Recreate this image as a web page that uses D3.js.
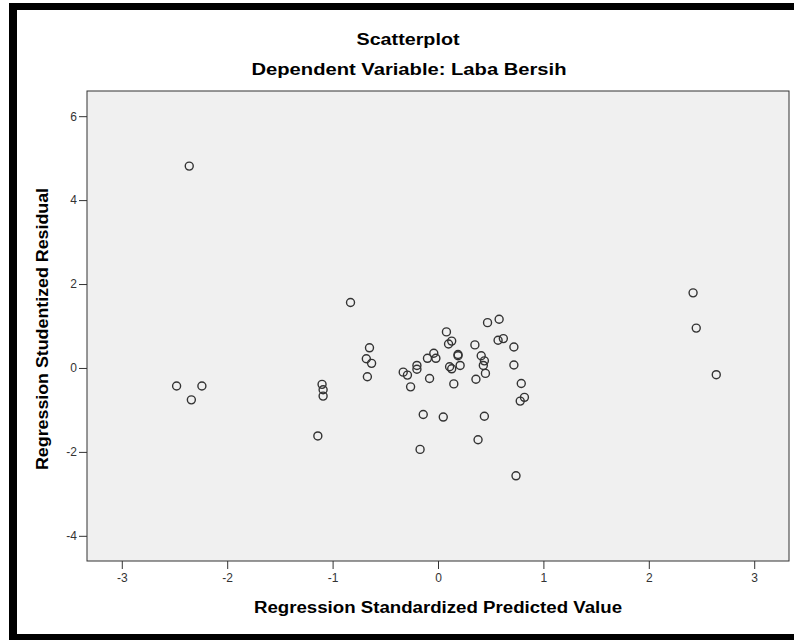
<!DOCTYPE html>
<html>
<head>
<meta charset="utf-8">
<script src="https://cdn.jsdelivr.net/npm/d3@7"></script>
<style>
  body { margin: 0; background: #fff; }
  svg { display: block; font-family: "Liberation Sans", Arial, sans-serif; }
</style>
</head>
<body>
<svg width="794" height="640"></svg>
<script>
// values
var predicted = [-2.36, -2.48, -2.24, -2.34, -1.10, -1.09, -1.09, -1.14, -0.83, -0.65,
    -0.68, -0.63, -0.67, -0.33, -0.29, -0.20, -0.20, -0.26, -0.10, -0.04,
    -0.02, -0.08, 0.08, 0.13, 0.10, 0.19, 0.19, 0.11, 0.13, 0.21,
    0.15, -0.14, 0.05, -0.17, 0.35, 0.41, 0.44, 0.43, 0.45, 0.36,
    0.44, 0.38, 0.47, 0.58, 0.57, 0.62, 0.72, 0.72, 0.79, 0.82,
    0.78, 0.74, 2.42, 2.45, 2.64];
var residual = [4.81, -0.43, -0.43, -0.76, -0.39, -0.52, -0.67, -1.62, 1.56, 0.48,
    0.22, 0.11, -0.21, -0.10, -0.17, 0.06, -0.03, -0.45, 0.23, 0.35,
    0.23, -0.25, 0.86, 0.64, 0.57, 0.32, 0.29, 0.03, -0.02, 0.06,
    -0.38, -1.11, -1.17, -1.94, 0.55, 0.29, 0.17, 0.06, -0.13, -0.27,
    -1.15, -1.71, 1.08, 1.16, 0.66, 0.70, 0.50, 0.07, -0.37, -0.70,
    -0.79, -2.57, 1.79, 0.95, -0.16];
var xTicks = [-3, -2, -1, 0, 1, 2, 3];
var yTicks = [-4, -2, 0, 2, 4, 6];

(function () {
    var svg = d3.select("svg");
    var pLeft = 87, pRight = 789, pTop = 91, pBottom = 561;

    var x = d3.scaleLinear().domain([-3.33, 3.33]).range([pLeft, pRight]);
    var y = d3.scaleLinear().domain([-4.6, 6.6]).range([pBottom, pTop]);

    // black frame of the pasted picture
    svg.append("rect").attr("x", 9).attr("y", 3).attr("width", 785).attr("height", 7).attr("fill", "#000");
    svg.append("rect").attr("x", 9).attr("y", 3).attr("width", 8).attr("height", 637).attr("fill", "#000");
    svg.append("rect").attr("x", 9).attr("y", 634).attr("width", 785).attr("height", 6).attr("fill", "#000");

    svg.append("text").attr("x", 408).attr("y", 45).attr("text-anchor", "middle")
        .style("font-size", "16px").style("font-weight", "bold")
        .attr("textLength", 103).attr("lengthAdjust", "spacingAndGlyphs")
        .text("Scatterplot");
    svg.append("text").attr("x", 409).attr("y", 75).attr("text-anchor", "middle")
        .style("font-size", "16px").style("font-weight", "bold")
        .attr("textLength", 315).attr("lengthAdjust", "spacingAndGlyphs")
        .text("Dependent Variable: Laba Bersih");

    svg.append("rect")
        .attr("x", pLeft).attr("y", pTop)
        .attr("width", pRight - pLeft).attr("height", pBottom - pTop)
        .attr("fill", "#f0f0f0")
        .attr("stroke", "#333").attr("stroke-width", 1);

    var fmt = function (d) { return String(d); };
    var xAxis = svg.append("g").attr("transform", "translate(0," + pBottom + ")")
        .call(d3.axisBottom(x).tickValues(xTicks).tickSize(8).tickPadding(4).tickFormat(fmt));
    var yAxis = svg.append("g").attr("transform", "translate(" + pLeft + ",0)")
        .call(d3.axisLeft(y).tickValues(yTicks).tickSize(8).tickPadding(2).tickFormat(fmt));

    [xAxis, yAxis].forEach(function (g) {
        g.select(".domain").remove();
        g.selectAll("line").attr("stroke", "#333");
        g.selectAll("text").attr("fill", "#333")
            .style("font-family", "'Liberation Sans', Arial, sans-serif").style("font-size", "12px");
    });

    svg.append("text").attr("x", 438).attr("y", 613).attr("text-anchor", "middle")
        .style("font-size", "16px").style("font-weight", "bold")
        .attr("textLength", 368).attr("lengthAdjust", "spacingAndGlyphs")
        .text("Regression Standardized Predicted Value");
    svg.append("text").attr("transform", "translate(48,329) rotate(-90)").attr("text-anchor", "middle")
        .style("font-size", "16px").style("font-weight", "bold")
        .attr("textLength", 282).attr("lengthAdjust", "spacingAndGlyphs")
        .text("Regression Studentized Residual");

    svg.selectAll("circle.pt")
        .data(predicted)
        .enter()
        .append("circle")
        .attr("class", "pt")
        .attr("cx", function (d) { return x(d); })
        .attr("cy", function (d, i) { return y(residual[i]); })
        .attr("r", 4)
        .attr("fill", "none")
        .attr("stroke", "#333")
        .attr("stroke-width", 1.4);
})();
</script>
</body>
</html>
